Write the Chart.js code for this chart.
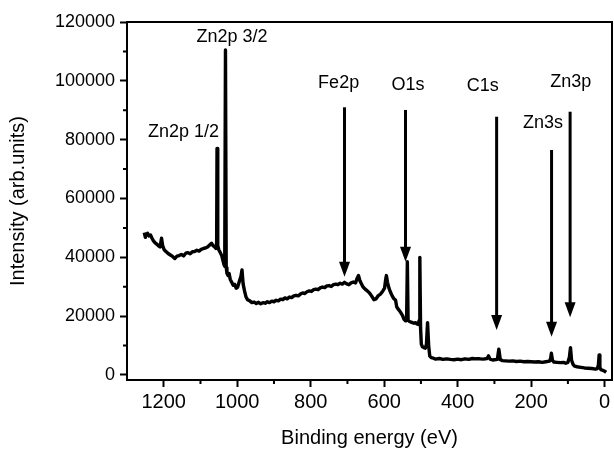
<!DOCTYPE html>
<html>
<head>
<meta charset="utf-8">
<script src="https://cdn.jsdelivr.net/npm/chart.js@4.4.1/dist/chart.umd.min.js"></script>
<style>
html, body { margin: 0; padding: 0; background: #fff; }
#wrap { width: 614px; height: 450px; position: relative; }
</style>
</head>
<body>
<div id="wrap"><canvas id="xps-chart"></canvas></div>
<script>
// survey spectrum (binding energy in eV, intensity in arb. units)
const energyEV = [
  1253, 1250, 1248, 1244, 1240, 1236, 1232, 1228, 1224, 1220, 1215, 1210, 1206, 1203, 1199, 1194, 1188,
  1182, 1176, 1170, 1164, 1158, 1152, 1146, 1140, 1134, 1128, 1122, 1116, 1110, 1104, 1098, 1092,
  1086, 1080, 1075, 1070, 1066, 1062, 1058, 1056, 1055, 1053, 1050, 1046, 1042, 1039, 1036, 1034,
  1032, 1030, 1028, 1025, 1022, 1019, 1015, 1011, 1007, 1003, 999, 995, 990, 987, 984, 980,
  976, 972, 966, 960, 954, 948, 942, 936, 930, 924, 918, 912, 906, 900, 894, 888,
  882, 876, 870, 864, 858, 852, 846, 840, 834, 828, 822, 816, 810, 804, 798, 792,
  786, 780, 774, 768, 762, 756, 750, 744, 738, 732, 726, 720, 714, 708, 702, 696,
  690, 684, 678, 674, 670, 666, 662, 658, 652, 646, 640, 634, 628, 622, 616, 610,
  604, 599, 596, 594, 591, 587, 583, 578, 574, 569, 566, 562, 558, 554, 550, 546,
  542, 539, 537, 535, 531, 527, 523, 519, 515, 511, 507, 505, 503, 501, 499, 496,
  492, 488, 485, 482, 479, 476, 472, 466, 460, 450, 440, 430, 420, 410, 400, 390,
  380, 370, 360, 350, 340, 330, 320, 316, 312, 305, 300, 292, 288, 284, 278, 270,
  260, 250, 240, 230, 220, 210, 200, 190, 180, 170, 160, 150, 147, 145, 142, 138,
  130, 120, 112, 106, 100, 96, 93, 90, 86, 82, 75, 65, 55, 45, 35, 25,
  20, 17, 15, 13, 10, 5, 0, -4
];
const counts = [
  48400, 46800, 47500, 48200, 47300, 47600, 46500, 45600, 45000, 44600, 44000, 43500, 46500, 44000, 42600, 42000, 41300,
  40800, 40300, 39600, 40400, 40600, 41000, 40500, 41400, 41600, 41200, 41900, 42000, 42400, 42100, 42700, 43000,
  43200, 43600, 44200, 44800, 44000, 43600, 43000, 45000, 77000, 44000, 42500, 41600, 40500, 39000, 37500, 37000,
  110500, 36500, 34600, 33800, 34500, 32500, 31500, 30500, 30800, 29500, 29800, 31500, 33500, 35700, 31000, 28500,
  26500, 25600, 25200, 24600, 24800, 24300, 24700, 24200, 24600, 24400, 24900, 24600, 25100, 24900, 25400, 25200,
  25800, 25600, 26200, 25900, 26500, 26300, 26900, 27100, 26900, 27500, 27900, 27700, 28300, 28600, 28400, 29000,
  29200, 29000, 29600, 29900, 29700, 30300, 30400, 30100, 30700, 30900, 30700, 31200, 30900, 31500, 31000, 30700,
  31300, 31600, 31300, 32800, 33800, 32000, 31000, 30000, 29200, 28600, 27900, 26800, 25600, 25900, 27000, 27500,
  28500, 29500, 32500, 33800, 31500, 29500, 28200, 26800, 26000, 25400, 23200, 22400, 21800, 21000, 20200, 18900,
  18400, 18500, 38500, 18600, 18200, 18000, 17800, 17600, 17800, 17400, 17200, 18500, 40000, 16000, 10500, 9600,
  9300, 9100, 10500, 17800, 10000, 6400, 5900, 5700, 5400, 5600, 5300, 5500, 5300, 5200, 5400, 5200,
  5500, 5300, 5600, 5500, 5500, 5400, 5600, 6500, 5400, 5100, 5200, 5300, 8800, 5200, 4900, 4800,
  4700, 4800, 4600, 4700, 4500, 4600, 4500, 4400, 4500, 4300, 4500, 4700, 5600, 7400, 5000, 4400,
  4300, 4200, 4300, 4000, 4300, 6000, 9300, 5000, 3600, 3000, 2800, 2600, 2400, 2300, 2200, 2000,
  2200, 3400, 6800, 2600, 1800, 1600, 1300, 900
];

// axis tick values
const xTickValues = [0, 100, 200, 300, 400, 500, 600, 700, 800, 900, 1000, 1100, 1200];
const yTickValues = [0, 10000, 20000, 30000, 40000, 50000, 60000, 70000, 80000, 90000, 100000, 110000, 120000];

// peak markers: arrow energy, arrow start and arrow tip intensity
const arrowEnergy = [708, 542, 294, 144.5, 94];
const arrowTop = [91000, 90100, 87800, 76500, 89500];
const arrowTip = [33400, 38500, 15300, 13000, 19600];

// peak names and where they sit
const peakNames = ['Zn2p 1/2', 'Zn2p 3/2', 'Fe2p', 'O1s', 'C1s', 'Zn3s', 'Zn3p'];
const nameEnergy = [1146, 1014, 724, 535, 332, 168, 92];
const nameCounts = [82700, 114800, 99400, 98600, 98300, 85800, 99700];

const FONT = "'Liberation Sans', Arial, Helvetica, sans-serif";

const spectrum = energyEV.map((e, i) => ({ x: e, y: counts[i] }));

const markPlugin = {
  id: 'peakMarks',
  afterDraw(chart) {
    const { ctx, chartArea: a, scales: { x, y } } = chart;
    ctx.save();
    ctx.strokeStyle = '#000';
    ctx.fillStyle = '#000';

    // frame round the plot
    ctx.lineWidth = 2;
    ctx.strokeRect(a.left, a.top, a.right - a.left, a.bottom - a.top);

    // short minor ticks
    ctx.beginPath();
    x.ticks.forEach(t => {
      if (t.value % 200 !== 0) {
        const px = x.getPixelForValue(t.value);
        ctx.moveTo(px, a.bottom);
        ctx.lineTo(px, a.bottom + 4);
      }
    });
    y.ticks.forEach(t => {
      if (t.value % 20000 !== 0) {
        const py = y.getPixelForValue(t.value);
        ctx.moveTo(a.left, py);
        ctx.lineTo(a.left - 4, py);
      }
    });
    ctx.stroke();

    // arrows
    arrowEnergy.forEach((e, i) => {
      const px = x.getPixelForValue(e);
      const top = y.getPixelForValue(arrowTop[i]);
      const tip = y.getPixelForValue(arrowTip[i]);
      ctx.lineWidth = 3;
      ctx.beginPath();
      ctx.moveTo(px, top);
      ctx.lineTo(px, tip - 12);
      ctx.stroke();
      ctx.beginPath();
      ctx.moveTo(px - 5.5, tip - 15);
      ctx.lineTo(px + 5.5, tip - 15);
      ctx.lineTo(px, tip);
      ctx.closePath();
      ctx.fill();
    });

    // peak names
    ctx.font = '18px ' + FONT;
    ctx.textAlign = 'center';
    ctx.textBaseline = 'middle';
    peakNames.forEach((name, i) => {
      ctx.fillText(name, x.getPixelForValue(nameEnergy[i]), y.getPixelForValue(nameCounts[i]));
    });
    ctx.restore();
  }
};

new Chart(document.getElementById('xps-chart'), {
  type: 'line',
  data: {
    datasets: [{
      data: spectrum,
      borderColor: '#000',
      borderWidth: 3.4,
      borderJoinStyle: 'round',
      pointRadius: 0,
      tension: 0,
      fill: false
    }]
  },
  options: {
    responsive: true,
    maintainAspectRatio: false,
    devicePixelRatio: 1,
    animation: false,
    layout: { padding: { top: 22, right: 2, left: 0, bottom: 0 } },
    plugins: { legend: { display: false }, tooltip: { enabled: false } },
    scales: {
      x: {
        type: 'linear',
        reverse: true,
        min: -20,
        max: 1300,
        afterBuildTicks: s => { s.ticks = xTickValues.map(v => ({ value: v })); },
        afterFit: s => { s.height = 70; },
        border: { display: false },
        grid: {
          drawOnChartArea: false,
          tickLength: 7,
          tickWidth: 2,
          tickColor: c => (c.tick && c.tick.value % 200 === 0) ? '#000' : 'rgba(0,0,0,0)'
        },
        ticks: {
          autoSkip: false,
          maxRotation: 0,
          padding: 3,
          color: '#000',
          font: { family: FONT, size: 20 },
          callback: v => (v % 200 === 0 ? String(v) : '')
        },
        title: {
          display: true,
          text: 'Binding energy (eV)',
          color: '#000',
          font: { family: FONT, size: 20 },
          padding: { top: 0, bottom: 0 }
        }
      },
      y: {
        type: 'linear',
        min: -1700,
        max: 120000,
        afterBuildTicks: s => { s.ticks = yTickValues.map(v => ({ value: v })); },
        afterFit: s => { s.width = 127; },
        border: { display: false },
        grid: {
          drawOnChartArea: false,
          tickLength: 7,
          tickWidth: 2,
          tickColor: c => (c.tick && c.tick.value % 20000 === 0) ? '#000' : 'rgba(0,0,0,0)'
        },
        ticks: {
          autoSkip: false,
          padding: 5,
          color: '#000',
          font: { family: FONT, size: 18 },
          callback: v => (v % 20000 === 0 ? String(v) : '')
        },
        title: {
          display: true,
          text: 'Intensity (arb.units)',
          color: '#000',
          font: { family: FONT, size: 20 },
          padding: { top: 6, bottom: 0 }
        }
      }
    }
  },
  plugins: [markPlugin]
});
</script>
</body>
</html>
